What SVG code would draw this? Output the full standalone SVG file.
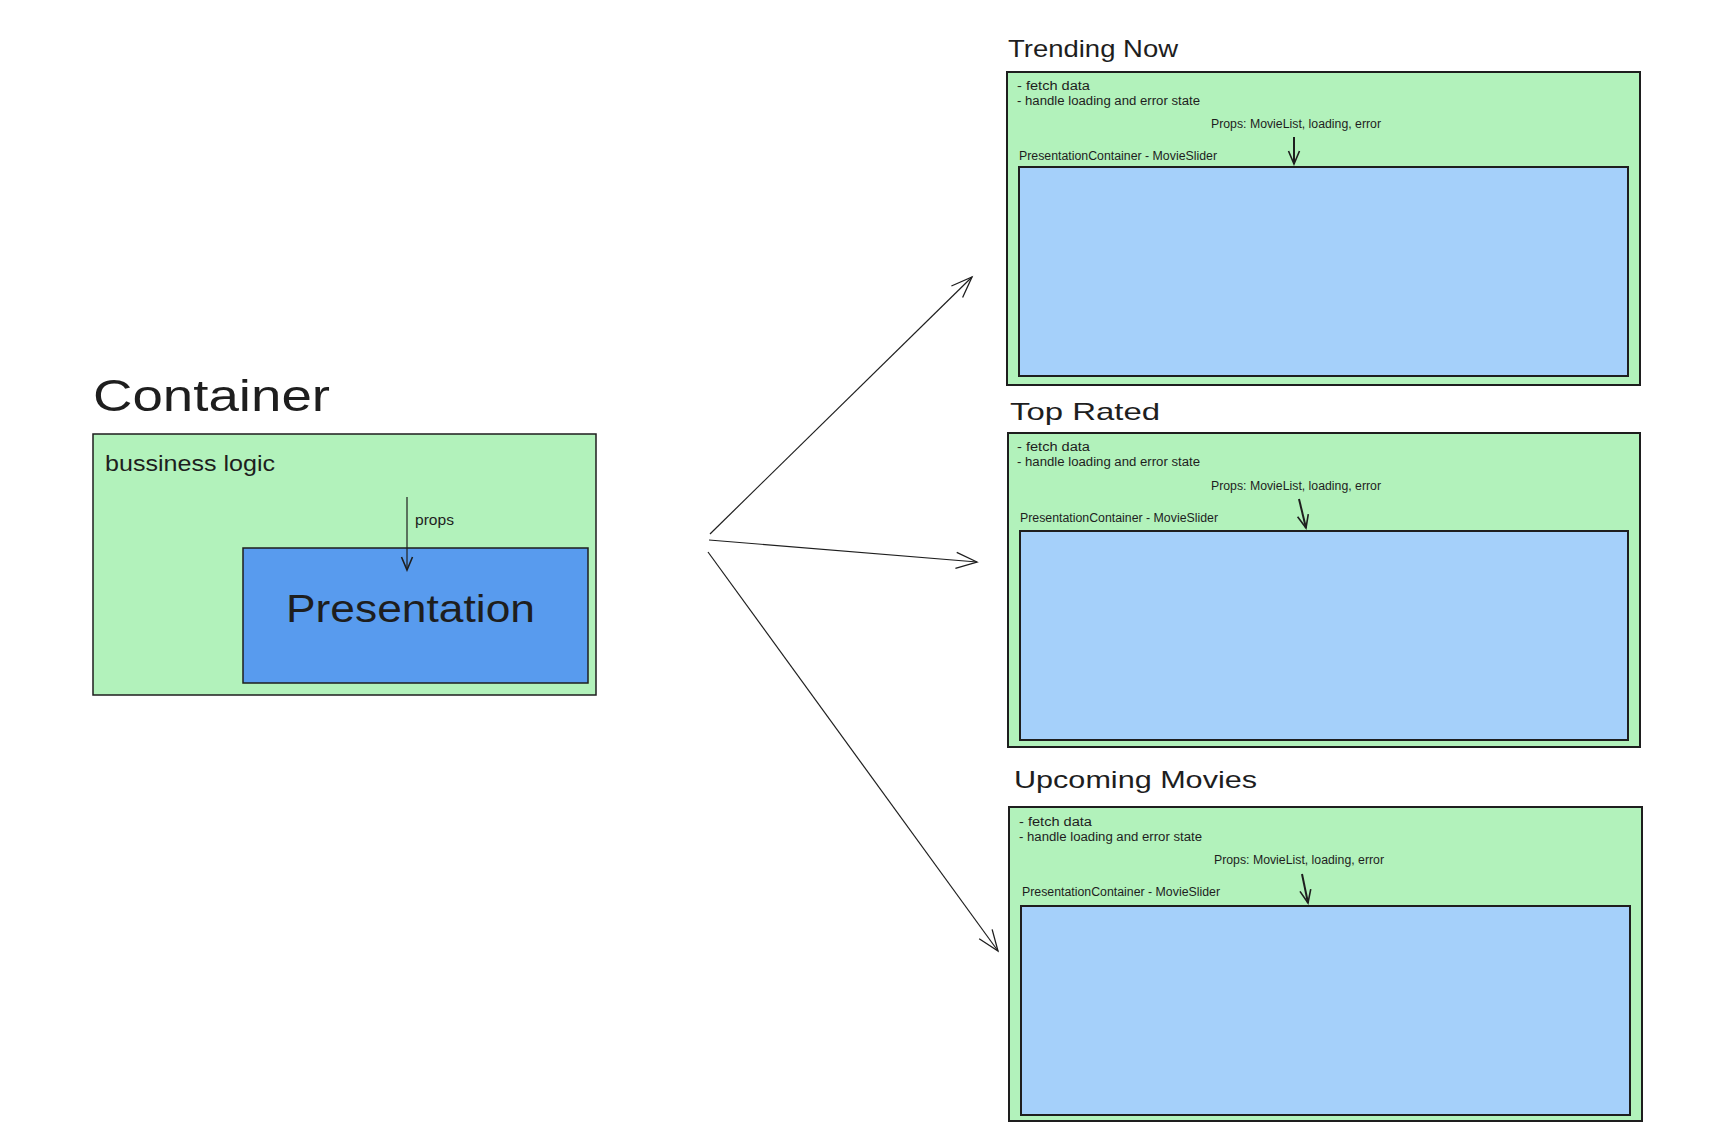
<svg xmlns="http://www.w3.org/2000/svg" width="1711" height="1144" viewBox="0 0 1711 1144">
<style>
  text { font-family: "Liberation Sans", "DejaVu Sans", sans-serif; fill: #1e1e1e; }
  .green { fill: #b2f2bb; stroke: #1e1e1e; stroke-width: 1.5; }
  .greenB { fill: #b2f2bb; stroke: #1e1e1e; stroke-width: 2; }
  .light { fill: #a5d0fa; stroke: #1e1e1e; stroke-width: 2; }
  .blue { fill: #589bee; stroke: #1e1e1e; stroke-width: 1.5; }
  .conn { fill: none; stroke: #1e1e1e; stroke-width: 1.2; }
  .connB { fill: none; stroke: #1e1e1e; stroke-width: 2; }
  .title { font-size: 24px; }
  .small { font-size: 12px; }
</style>
<defs>
  <marker id="headLg" markerUnits="userSpaceOnUse" markerWidth="26" markerHeight="22" refX="23" refY="11" orient="auto">
    <path d="M2,3 L23,11 L2,19" fill="none" stroke="#1e1e1e" stroke-width="1.3"/>
  </marker>
  <marker id="headSm" markerUnits="userSpaceOnUse" markerWidth="16" markerHeight="14" refX="14" refY="7" orient="auto">
    <path d="M1,1.5 L14,7 L1,12.5" fill="none" stroke="#1e1e1e" stroke-width="1.6"/>
  </marker>
  <marker id="headMd" markerUnits="userSpaceOnUse" markerWidth="30" markerHeight="18" refX="28" refY="9" orient="auto">
    <path d="M1,2 L28,9 L1,16" fill="none" stroke="#1e1e1e" stroke-width="1.2"/>
  </marker>
</defs>

<g id="container">
  <text x="93" y="411" font-size="44" textLength="237" lengthAdjust="spacingAndGlyphs">Container</text>
  <rect class="green" x="93" y="434" width="503" height="261"/>
  <text x="105" y="471" font-size="22" textLength="170" lengthAdjust="spacingAndGlyphs">bussiness logic</text>
</g>

<g id="presentation">
  <rect class="blue" x="243" y="548" width="345" height="135"/>
  <text x="286" y="622" font-size="38" textLength="249" lengthAdjust="spacingAndGlyphs">Presentation</text>
</g>

<g id="trending-now">
  <text class="title" x="1008" y="57" textLength="170" lengthAdjust="spacingAndGlyphs">Trending Now</text>
  <rect class="greenB" x="1007" y="72" width="633" height="313"/>
  <text class="small" x="1017" y="90" textLength="73" lengthAdjust="spacingAndGlyphs">- fetch data</text>
  <text class="small" x="1017" y="105" textLength="183" lengthAdjust="spacingAndGlyphs">- handle loading and error state</text>
  <text class="small" x="1211" y="128" textLength="170" lengthAdjust="spacingAndGlyphs">Props: MovieList, loading, error</text>
  <text class="small" x="1019" y="160" textLength="198" lengthAdjust="spacingAndGlyphs">PresentationContainer - MovieSlider</text>
  <rect class="light" x="1019" y="167" width="609" height="209"/>
</g>

<g id="top-rated">
  <text class="title" x="1010" y="420" textLength="150" lengthAdjust="spacingAndGlyphs">Top Rated</text>
  <rect class="greenB" x="1008" y="433" width="632" height="314"/>
  <text class="small" x="1017" y="451" textLength="73" lengthAdjust="spacingAndGlyphs">- fetch data</text>
  <text class="small" x="1017" y="466" textLength="183" lengthAdjust="spacingAndGlyphs">- handle loading and error state</text>
  <text class="small" x="1211" y="490" textLength="170" lengthAdjust="spacingAndGlyphs">Props: MovieList, loading, error</text>
  <text class="small" x="1020" y="522" textLength="198" lengthAdjust="spacingAndGlyphs">PresentationContainer - MovieSlider</text>
  <rect class="light" x="1020" y="531" width="608" height="209"/>
</g>

<g id="upcoming-movies">
  <text class="title" x="1014" y="788" textLength="243" lengthAdjust="spacingAndGlyphs">Upcoming Movies</text>
  <rect class="greenB" x="1009" y="807" width="633" height="314"/>
  <text class="small" x="1019" y="826" textLength="73" lengthAdjust="spacingAndGlyphs">- fetch data</text>
  <text class="small" x="1019" y="841" textLength="183" lengthAdjust="spacingAndGlyphs">- handle loading and error state</text>
  <text class="small" x="1214" y="864" textLength="170" lengthAdjust="spacingAndGlyphs">Props: MovieList, loading, error</text>
  <text class="small" x="1022" y="896" textLength="198" lengthAdjust="spacingAndGlyphs">PresentationContainer - MovieSlider</text>
  <rect class="light" x="1021" y="906" width="609" height="209"/>
</g>

<g id="connectors">
  <line class="conn" x1="407" y1="497" x2="407" y2="570" marker-end="url(#headSm)"/>
  <text x="415" y="525" font-size="14" textLength="39" lengthAdjust="spacingAndGlyphs">props</text>
  <line class="conn" x1="710" y1="534" x2="972" y2="277" marker-end="url(#headLg)"/>
  <line class="conn" x1="709" y1="540" x2="977" y2="562" marker-end="url(#headLg)"/>
  <line class="conn" x1="708" y1="552" x2="998" y2="951" marker-end="url(#headLg)"/>
  <line class="connB" x1="1294" y1="137" x2="1294" y2="164" marker-end="url(#headSm)"/>
  <line class="connB" x1="1299" y1="499" x2="1306" y2="528" marker-end="url(#headSm)"/>
  <line class="connB" x1="1302" y1="874" x2="1308" y2="903" marker-end="url(#headSm)"/>
</g>
</svg>
